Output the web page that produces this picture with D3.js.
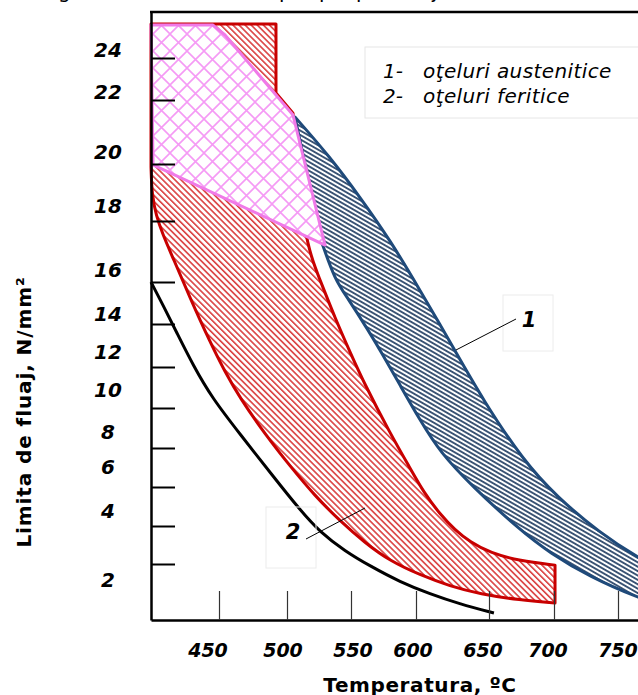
<!DOCTYPE html>
<html><head><meta charset="utf-8">
<script src="https://cdn.jsdelivr.net/npm/d3@7"></script>
<style>body{margin:0;background:#fff}svg{display:block}</style>
</head><body><svg id="c" width="638" height="695"></svg>
<script>
// ---------- data ----------
const xTicks = [450, 500, 550, 600, 650, 700, 750];
const yTicks = [2, 4, 6, 8, 10, 12, 14, 16, 18, 20, 22, 24];

// lower envelope curve (black)
const blackT = [400, 408.8, 419.1, 430.9, 444.9, 465.4, 489.7, 510.2, 525.8, 545.3, 564.6, 587.7, 609.6, 630.1, 653.8];
const blackV = [16, 14.9, 13.58, 12.09, 10.49, 8.7, 6.56, 4.82, 3.68, 2.68, 1.93, 1.36, 0.93, 0.57, 0.25];

// 2 - ferritic steels band (red)
const ferTopT = [400, 491.9, 491.9, 504.7];
const ferTopV = [25.48, 25.48, 22.33, 21.59];
const ferUpperT = [504.7, 512.5, 525.8, 537.5, 549.2, 560.8, 580, 595.4, 605.6, 616.4, 626.7, 637, 651, 673.8, 700.8];
const ferUpperV = [21.59, 17.48, 16.07, 14.29, 12.7, 11.12, 8.75, 6.97, 5.69, 4.61, 3.79, 3.16, 2.58, 2.16, 1.96];
const ferLowerT = [400, 400.7, 403.7, 408.8, 416.2, 428.7, 443.4, 454.4, 465.4, 483.8, 502.3, 521.9, 541.4, 560.8, 580, 602.7, 623.3, 643.8, 673.8, 700.8];
const ferLowerV = [19.89, 18.91, 18.21, 17.54, 16.79, 15.24, 13.16, 11.76, 10.49, 8.7, 7.08, 5.54, 4.26, 3.11, 2.16, 1.61, 1.21, 0.93, 0.71, 0.61];

// 1 - austenitic steels band (blue)
const ausUpperT = [506.2, 533.6, 556.9, 580, 602.7, 625.3, 645.9, 676.1, 702.3, 735.9, 765.2, 797];
const ausUpperV = [21.47, 20.22, 18.84, 17.38, 15.62, 12.93, 10.39, 7.38, 5.49, 3.63, 2.32, 1.43];
const ausLowerT = [527.3, 537.5, 546.9, 564.6, 572.3, 587.7, 602.7, 616.4, 639, 673.8, 696.9, 728.1, 765.2, 797];
const ausLowerV = [17.28, 16.07, 15.29, 13.58, 12.79, 11.12, 9.4, 7.79, 6.0, 3.79, 2.58, 1.54, 0.79, 0.29];

// overlap zone (pink)
const overlapT = [400, 445.6, 454.4, 504.7, 529.7, 401.5];
const overlapV = [25.43, 25.43, 25.0, 21.53, 17.21, 19.97];

const legendNums = ["1-", "2-"];
const legendLabels = ["oţeluri austenitice", "oţeluri feritice"];
const xTitle = "Temperatura, ºC";
const yTitle = "Limita de fluaj, N/mm²";

// ---------- drawing ----------
const svg = d3.select("#c");
const x = d3.scaleLinear()
  .domain([400, 450, 500, 550, 600, 650, 700, 750, 800])
  .range([151, 219, 287, 351, 416, 489, 554, 618, 684]);
const y = d3.scaleLinear()
  .domain([0, 2, 4, 6, 8, 10, 12, 14, 16, 18, 20, 22, 24, 26])
  .range([620, 564, 526, 487, 448, 408, 367, 324, 282, 221, 164, 100, 58, 12]);
const yLab = d3.scaleLinear().domain(yTicks)
  .range([580, 511, 467, 432, 390, 352, 314, 270, 206, 152, 92, 50]);
const xLab = d3.scaleLinear().domain(xTicks)
  .range([208, 283, 353, 413, 483, 548, 618]);

const pts = (T, V) => T.map((t, i) => [x(t), y(V[i])]);
const lin = d3.line();
const crv = d3.line().curve(d3.curveBasis);
const cont = s => "L" + s.slice(1);

const defs = svg.append("defs");
const pr = defs.append("pattern").attr("id", "hRed").attr("patternUnits", "userSpaceOnUse")
  .attr("width", 4.3).attr("height", 10).attr("patternTransform", "rotate(-45)");
pr.append("rect").attr("width", 4.3).attr("height", 10).attr("fill", "#fff");
pr.append("rect").attr("width", 1.6).attr("height", 10).attr("fill", "#da4040");

const pb = defs.append("pattern").attr("id", "hBlue").attr("patternUnits", "userSpaceOnUse")
  .attr("width", 10).attr("height", 3.8).attr("patternTransform", "rotate(30)");
pb.append("rect").attr("width", 10).attr("height", 3.8).attr("fill", "#fff");
pb.append("rect").attr("width", 10).attr("height", 1.9).attr("fill", "#3a5374");

const pp = defs.append("pattern").attr("id", "hPink").attr("patternUnits", "userSpaceOnUse")
  .attr("width", 17).attr("height", 17);
pp.append("rect").attr("width", 17).attr("height", 17).attr("fill", "#fff");
pp.append("path").attr("d", "M0,0L17,17M17,0L0,17M-2,15L2,19M15,-2L19,2M-2,2L2,-2M15,19L19,15")
  .attr("stroke", "#f59af5").attr("stroke-width", 1.6).attr("fill", "none");

// top fragment of caption (cropped above)
svg.append("g").attr("font-family", "DejaVu Sans, Verdana, sans-serif").attr("font-size", 20)
  .selectAll("text").data([["g", 58], ["p", 279], ["p", 319], ["p", 356], ["j", 432]])
  .join("text").attr("x", d => d[1]).attr("y", -2).text(d => d[0]);

// ferritic band
const ferPath = lin(pts(ferTopT, ferTopV)) + cont(crv(pts(ferUpperT, ferUpperV))) +
  cont(crv(pts(ferLowerT, ferLowerV).reverse())) + "Z";
svg.append("path").attr("d", ferPath).attr("fill", "url(#hRed)")
  .attr("stroke", "#c80000").attr("stroke-width", 3).attr("stroke-linejoin", "round");

// austenitic band
const ausPath = crv(pts(ausUpperT, ausUpperV)) + cont(crv(pts(ausLowerT, ausLowerV).reverse())) + "Z";
svg.append("path").attr("d", ausPath).attr("fill", "url(#hBlue)")
  .attr("stroke", "#1f4a7a").attr("stroke-width", 3).attr("stroke-linejoin", "round");

// black curve
svg.append("path").attr("d", crv(pts(blackT, blackV))).attr("fill", "none")
  .attr("stroke", "#000").attr("stroke-width", 3);

// overlap zone
svg.append("path").attr("d", lin(pts(overlapT, overlapV)) + "Z").attr("fill", "url(#hPink)")
  .attr("stroke", "#f07ae8").attr("stroke-width", 3).attr("stroke-linejoin", "round");

// axes
const ya = svg.append("g").attr("transform", `translate(${x(400)},0)`)
  .call(d3.axisLeft(y).tickValues(yTicks).tickSize(-24).tickSizeOuter(0).tickFormat(""));
ya.select(".domain").attr("stroke-width", 2.5);
ya.selectAll(".tick line").attr("stroke-width", 2);
const xa = svg.append("g").attr("transform", `translate(0,${y(0)})`)
  .call(d3.axisBottom(x).tickValues(xTicks).tickSize(-29).tickSizeOuter(0).tickFormat(""));
xa.select(".domain").attr("stroke-width", 2.5);
xa.selectAll(".tick line").attr("stroke", "#333").attr("stroke-width", 1.2);
svg.append("line").attr("x1", x(400) - 1).attr("x2", x(800)).attr("y1", y(26)).attr("y2", y(26))
  .attr("stroke", "#000").attr("stroke-width", 2.5);

const lblFont = "DejaVu Sans, Verdana, sans-serif";
svg.append("g").selectAll("text").data(yTicks).join("text")
  .attr("x", 108).attr("y", d => yLab(d)).attr("dy", "0.36em")
  .attr("text-anchor", "middle").attr("font-family", lblFont).attr("font-size", 20)
  .attr("font-weight", "bold").attr("font-style", "italic").text(d => d);
svg.append("g").selectAll("text").data(xTicks).join("text")
  .attr("x", d => xLab(d)).attr("y", 650).attr("dy", "0.36em")
  .attr("text-anchor", "middle").attr("font-family", lblFont).attr("font-size", 19)
  .attr("font-weight", "bold").attr("font-style", "italic").text(d => d);

svg.append("text").attr("x", 420).attr("y", 685).attr("dy", "0.36em").attr("text-anchor", "middle")
  .attr("font-family", lblFont).attr("font-size", 20).attr("font-weight", "bold")
  .attr("letter-spacing", 0.6).text(xTitle);
svg.append("text").attr("transform", "translate(24,412) rotate(-90)").attr("dy", "0.36em")
  .attr("text-anchor", "middle").attr("font-family", lblFont).attr("font-size", 20)
  .attr("font-weight", "bold").attr("letter-spacing", 0.9).text(yTitle);

// legend
svg.append("rect").attr("x", 365).attr("y", 47).attr("width", 300).attr("height", 71)
  .attr("fill", "#fff").attr("stroke", "#e6e6e6");
const lg = svg.append("g").attr("font-family", lblFont).attr("font-size", 20).attr("font-style", "italic");
lg.selectAll("text.n").data(legendNums).join("text").attr("class", "n")
  .attr("x", 383).attr("y", (d, i) => 78 + i * 25).text(d => d);
lg.selectAll("text.l").data(legendLabels).join("text").attr("class", "l")
  .attr("x", 423).attr("y", (d, i) => 78 + i * 25).attr("letter-spacing", 0.4).text(d => d);

// callouts
const callouts = [
  {lab: "1", box: [503, 295, 50, 56], tx: 529, ty: 319, line: [516, 319, 456, 350]},
  {lab: "2", box: [266, 507, 50, 61], tx: 293, ty: 531, line: [306, 539, 365, 508]}
];
callouts.forEach(c => {
  svg.append("rect").attr("x", c.box[0]).attr("y", c.box[1]).attr("width", c.box[2]).attr("height", c.box[3])
    .attr("fill", "none").attr("stroke", "#ececec");
  svg.append("line").attr("x1", c.line[0]).attr("y1", c.line[1]).attr("x2", c.line[2]).attr("y2", c.line[3])
    .attr("stroke", "#000").attr("stroke-width", 1);
  svg.append("text").attr("x", c.tx).attr("y", c.ty).attr("dy", "0.36em").attr("text-anchor", "middle")
    .attr("font-family", lblFont).attr("font-size", 21).attr("font-weight", "bold").attr("font-style", "italic")
    .text(c.lab);
});
</script></body></html>
